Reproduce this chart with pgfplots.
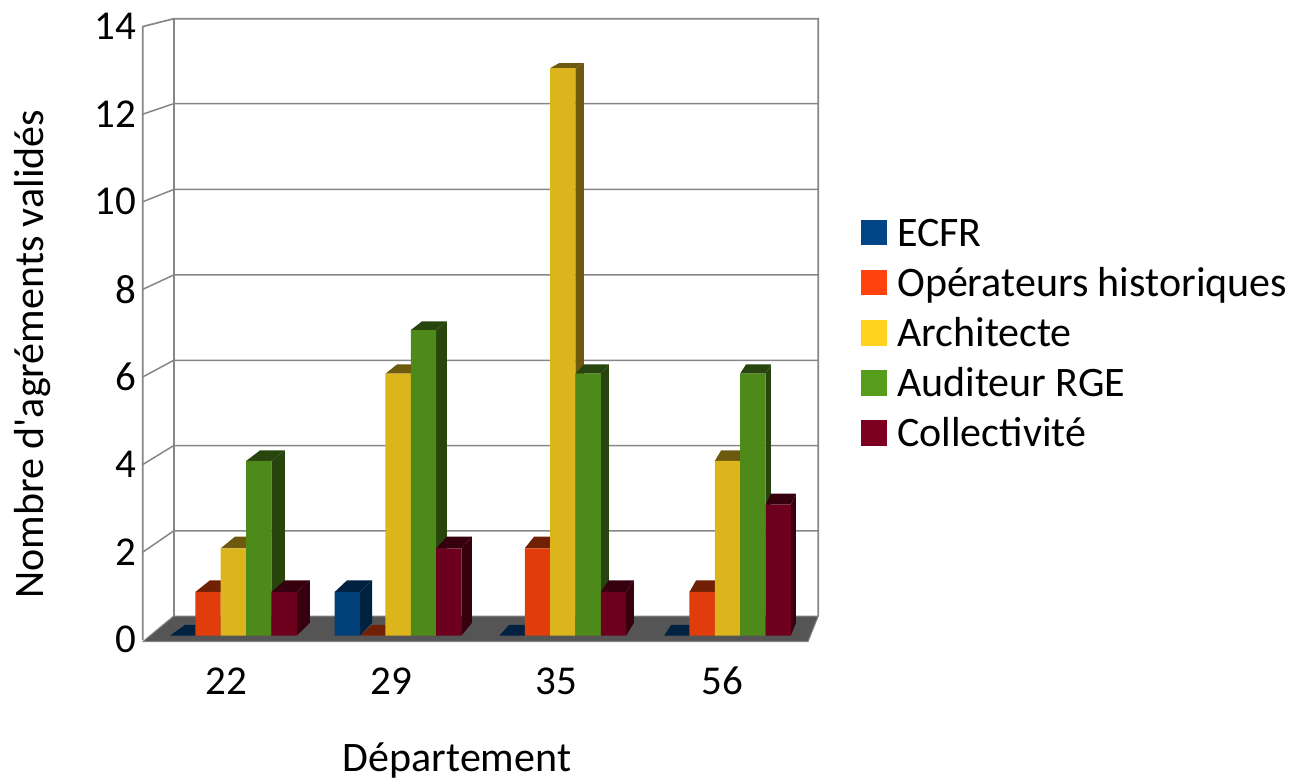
\documentclass[border=0pt]{standalone}
\usepackage{pgfplots}
\pgfplotsset{compat=1.18}
\usepackage{fontspec}
\setmainfont{Carlito}[Ligatures=TeXOff]

% front faces, darker faces (side and top), legend swatches
\definecolor{ecfrF}{HTML}{003F78}\definecolor{ecfrD}{HTML}{00213F}\definecolor{ecfrL}{HTML}{004586}
\definecolor{opF}{HTML}{E03C0C}\definecolor{opD}{HTML}{702005}\definecolor{opL}{HTML}{FF420E}
\definecolor{archF}{HTML}{DCB51C}\definecolor{archD}{HTML}{6E5A0E}\definecolor{archL}{HTML}{FFD320}
\definecolor{audF}{HTML}{4E8A19}\definecolor{audD}{HTML}{27450C}\definecolor{audL}{HTML}{579D1C}
\definecolor{colF}{HTML}{6C001D}\definecolor{colD}{HTML}{36000F}\definecolor{colL}{HTML}{7E0021}
\definecolor{wall}{HTML}{868686}
\definecolor{floorc}{HTML}{555555}

\pgfplotsset{
  canvas/.style={
    scale only axis, width=1293pt, height=778pt,
    xmin=0, xmax=1293, clip=false,
  },
}

% side and top of one bar: dark colour, bar centre, value
% depth shrinks to the right and upwards (perspective of the 3D view)
\newcommand{\depthfaces}[3]{%
  \pgfmathsetmacro{\xa}{#2-12.675}%
  \pgfmathsetmacro{\xb}{#2+12.675}%
  \pgfmathsetmacro{\xc}{\xb+13-0.0162*(\xb-297)}%
  \pgfmathsetmacro{\xd}{\xa+13-0.0162*(\xa-297)}%
  \pgfmathsetmacro{\dpx}{#3==0 ? 10.7 : min(11.7,13-0.62*#3)}%
  \pgfmathsetmacro{\vb}{#3+\dpx/43.65}%
  \addplot[fill=#1,draw=none,forget plot] coordinates {(\xb,0) (\xc,0.29) (\xc,\vb) (\xb,#3)};
  \addplot[fill=#1,draw=none,forget plot] coordinates {(\xa,#3) (\xb,#3) (\xc,\vb) (\xd,\vb)};
}

\begin{document}
\begin{tikzpicture}

% walls, floor, tick labels, axis titles and legend
\begin{axis}[canvas,
  ymin=-3.155, ymax=14.607,
  axis line style={draw=none},
  major tick length=0pt,
  tick style={draw=none},
  /pgf/number format/assume math mode=true,
  tick label style={font=\fontsize{41}{49}\selectfont},
  label style={font=\fontsize{42}{50}\selectfont},
  ytick={0,2,4,6,8,10,12,14},
  xtick={226,391,556,722},
  xticklabels={22,29,35,56},
  yticklabel style={anchor=east,xshift=140pt},
  xticklabel style={anchor=center,yshift=97pt},
  xlabel={Département},
  ylabel={Nombre d'agréments validés},
  xlabel style={at={(axis description cs:0.3534,0.0225)},anchor=center},
  ylabel style={at={(axis description cs:0.0255,0.5445)},anchor=center},
  legend cell align=left,
  legend style={at={(axis description cs:0.6659,0.7222)},anchor=north west,
    draw=none,fill=none,inner sep=0pt,outer sep=0pt,
    font=\fontsize{42}{50}\selectfont,
    row sep=8.2pt,
    nodes={inner sep=0pt,text height=30pt,text depth=12pt}},
  legend image code/.code={\fill[#1,draw=none] (0pt,-8pt) rectangle (25.5pt,17.5pt);\path (36pt,0pt);},
]
\addplot[fill=floorc,draw=wall,line width=1pt,forget plot] coordinates {(142.7,-0.043) (808,-0.043) (818.3,0.543) (173.7,0.543) (142.7,-0.043)};
\addplot[wall,line width=1.7pt,forget plot] coordinates {(142.7,0) (142.7,14) (173.7,14.18) (818.3,14.18) (818.3,0.543)};
\addplot[wall,line width=1.7pt,forget plot] coordinates {(173.7,14.18) (173.7,0.543)};
\addplot[wall,line width=1.5pt,forget plot] coordinates {(142.7,2) (173.7,2.486) (818.3,2.486)};
\addplot[wall,line width=1.5pt,forget plot] coordinates {(142.7,4) (173.7,4.434) (818.3,4.434)};
\addplot[wall,line width=1.5pt,forget plot] coordinates {(142.7,6) (173.7,6.381) (818.3,6.381)};
\addplot[wall,line width=1.5pt,forget plot] coordinates {(142.7,8) (173.7,8.329) (818.3,8.329)};
\addplot[wall,line width=1.5pt,forget plot] coordinates {(142.7,10) (173.7,10.281) (818.3,10.281)};
\addplot[wall,line width=1.5pt,forget plot] coordinates {(142.7,12) (173.7,12.24) (818.3,12.24)};
\addlegendimage{fill=ecfrL}\addlegendentry{ECFR}
\addlegendimage{fill=opL}\addlegendentry{Opérateurs historiques}
\addlegendimage{fill=archL}\addlegendentry{Architecte}
\addlegendimage{fill=audL}\addlegendentry{Auditeur RGE}
\addlegendimage{fill=colL}\addlegendentry{Collectivité}
\end{axis}

% bars: x in picture units, y in values
\begin{axis}[canvas,
  ymin=-3.262, ymax=14.561,
  hide axis,
]
% ECFR
\depthfaces{ecfrD}{182.7}{0}
\depthfaces{ecfrD}{347.4}{1}
\depthfaces{ecfrD}{512.1}{0}
\depthfaces{ecfrD}{676.8}{0}
\addplot[ybar,bar width=25.35pt,bar shift=0pt,fill=ecfrF,draw=none] coordinates {(182.7,0) (347.4,1) (512.1,0) (676.8,0)};
% Opérateurs historiques
\depthfaces{opD}{208.05}{1}
\depthfaces{opD}{372.75}{0}
\depthfaces{opD}{537.45}{2}
\depthfaces{opD}{702.15}{1}
\addplot[ybar,bar width=25.35pt,bar shift=0pt,fill=opF,draw=none] coordinates {(208.05,1) (372.75,0) (537.45,2) (702.15,1)};
% Architecte
\depthfaces{archD}{233.4}{2}
\depthfaces{archD}{398.1}{6}
\depthfaces{archD}{562.8}{13}
\depthfaces{archD}{727.5}{4}
\addplot[ybar,bar width=25.35pt,bar shift=0pt,fill=archF,draw=none] coordinates {(233.4,2) (398.1,6) (562.8,13) (727.5,4)};
% Auditeur RGE
\depthfaces{audD}{258.75}{4}
\depthfaces{audD}{423.45}{7}
\depthfaces{audD}{588.15}{6}
\depthfaces{audD}{752.85}{6}
\addplot[ybar,bar width=25.35pt,bar shift=0pt,fill=audF,draw=none] coordinates {(258.75,4) (423.45,7) (588.15,6) (752.85,6)};
% Collectivité
\depthfaces{colD}{284.1}{1}
\depthfaces{colD}{448.8}{2}
\depthfaces{colD}{613.5}{1}
\depthfaces{colD}{778.2}{3}
\addplot[ybar,bar width=25.35pt,bar shift=0pt,fill=colF,draw=none] coordinates {(284.1,1) (448.8,2) (613.5,1) (778.2,3)};
\end{axis}
\end{tikzpicture}
\end{document}
